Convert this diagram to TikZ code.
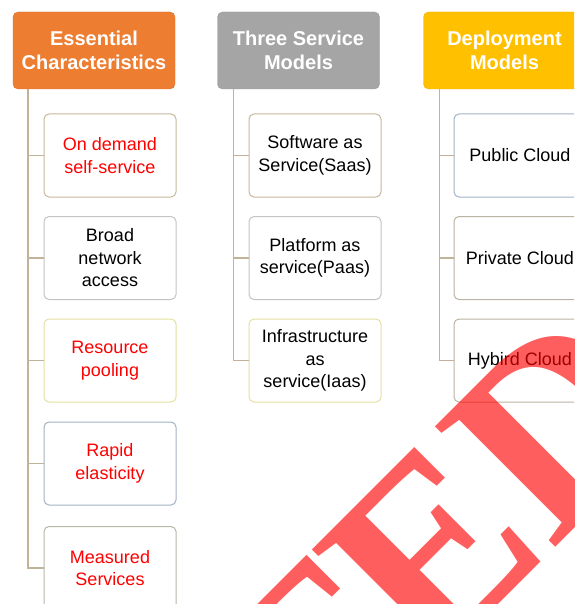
\documentclass[tikz,border=0pt]{standalone}
\usepackage{fontspec}
\setmainfont{Liberation Sans}
\newfontfamily\wmfont{Liberation Serif}
\definecolor{hOrange}{HTML}{ED7D31}
\definecolor{hOrangeD}{HTML}{DB7030}
\definecolor{hGray}{HTML}{A5A5A5}
\definecolor{hGrayD}{HTML}{999999}
\definecolor{hGold}{HTML}{FFC000}
\definecolor{hGoldD}{HTML}{F0B400}
\definecolor{trunkc}{HTML}{C2B29A}
\definecolor{bTan}{HTML}{C9B79C}
\definecolor{bGray}{HTML}{C4C4C4}
\definecolor{bYel}{HTML}{E6DFA0}
\definecolor{bBlue}{HTML}{A3B3C6}
\definecolor{bOlive}{HTML}{B8B8A8}
\definecolor{bTaupe}{HTML}{BBB2A3}
\definecolor{txtRed}{HTML}{FF0000}
\tikzset{
  header/.style={rounded corners=5pt, minimum width=162pt, minimum height=77pt,
    inner sep=0pt, align=center, text=white,
    font=\bfseries\fontsize{20}{24}\selectfont},
  leaf/.style={rounded corners=5pt, minimum width=132pt, minimum height=83pt,
    inner sep=0pt, align=center, fill=white, line width=1pt,
    font=\fontsize{18}{22.5}\selectfont},
  trunk/.style={draw=trunkc, line width=1.4pt},
  redtxt/.style={text=txtRed}
}
\begin{document}
\begin{tikzpicture}[x=1pt,y=-1pt]
\useasboundingbox (0,0) rectangle (574,604);
\clip (0,0) rectangle (574,604);
\fill[white] (0,0) rectangle (574,604);

% headers
\node[header, fill=hOrange, draw=hOrangeD] (h1) at (94,50.5) {Essential\\Characteristics};
\node[header, fill=hGray, draw=hGrayD] (h2) at (298.5,50.5) {Three Service\\Models};
\node[header, fill=hGold, draw=hGoldD] (h3) at (504.5,50.5) {Deployment\\Models};

% column 1
\node[leaf, draw=bTan, redtxt] (c1a) at (110,155.5) {On demand\\self-service};
\node[leaf, draw=bGray] (c1b) at (110,258) {Broad\\network\\access};
\node[leaf, draw=bYel, redtxt] (c1c) at (110,360.5) {Resource\\pooling};
\node[leaf, draw=bBlue, redtxt] (c1d) at (110,463.5) {Rapid\\elasticity};
\node[leaf, draw=bOlive, redtxt] (c1e) at (110,568) {Measured\\Services};

% column 2
\node[leaf, draw=bTan] (c2a) at (315,155.5) {Software as\\Service(Saas)};
\node[leaf, draw=bGray] (c2b) at (315,258) {Platform as\\service(Paas)};
\node[leaf, draw=bYel] (c2c) at (315,360.5) {Infrastructure\\as\\service(Iaas)};

% column 3
\node[leaf, draw=bBlue] (c3a) at (520,155.5) {Public Cloud};
\node[leaf, draw=bTaupe] (c3b) at (520,258) {Private Cloud};
\node[leaf, draw=bTaupe] (c3c) at (520,360.5) {Hybird Cloud};

% trunks
\coordinate (t1) at ([xshift=15pt]h1.south west);
\coordinate (t2) at ([xshift=16pt]h2.south west);
\coordinate (t3) at ([xshift=16pt]h3.south west);
\foreach \n in {c1a,c1b,c1c,c1d,c1e} {\draw[trunk] (t1) |- (\n.west);}
\foreach \n in {c2a,c2b,c2c} {\draw[trunk] (t2) |- (\n.west);}
\foreach \n in {c3a,c3b,c3c} {\draw[trunk] (t3) |- (\n.west);}

% watermark
\node[anchor=base west, inner sep=0pt, rotate=45, text=red, text opacity=0.63,
  font=\wmfont\bfseries\fontsize{260}{260}\selectfont] (wm) at (307,796) {TED};
\end{tikzpicture}
\end{document}
